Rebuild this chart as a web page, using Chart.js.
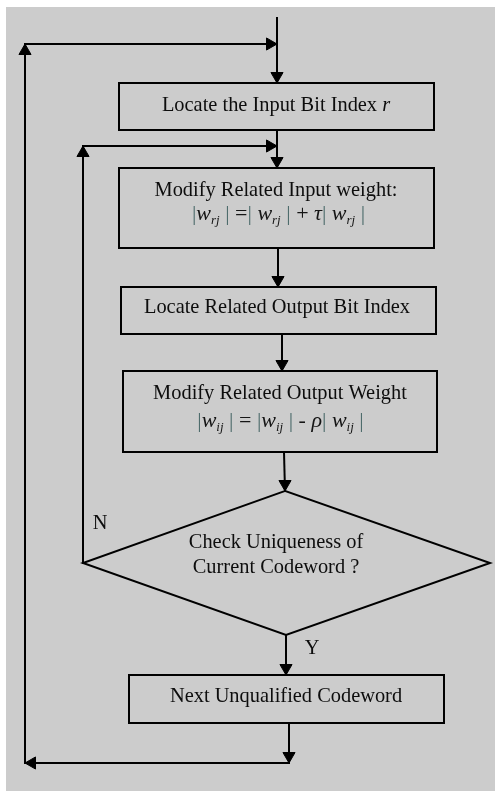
<!DOCTYPE html>
<html>
<head>
<meta charset="utf-8">
<script src="https://cdn.jsdelivr.net/npm/chart.js@4/dist/chart.umd.min.js"></script>
<style>
  html, body { margin: 0; padding: 0; background: #ffffff; }
  #wrap { width: 495px; height: 791px; position: relative; }
  canvas { display: block; }
</style>
</head>
<body>
<div id="wrap"><canvas id="c" width="495" height="791"></canvas></div>
<script>
// ---- content (text) ----
const boxLabels = [
  ["Locate the Input Bit Index ", {t:"r", i:true}],
  ["Modify Related Input weight:"],
  ["Locate Related Output Bit Index"],
  ["Modify Related Output Weight"],
  ["Next Unqualified Codeword"]
];
const decisionLines = ["Check Uniqueness of", "Current Codeword ?"];
const branchLabels = ["N", "Y"];
const BAR = '#4e6c6c';
const formula1 = [
  {t:"|", c:BAR}, {t:"w", i:true}, {t:"rj", i:true, sub:true}, {t:" | ", c:BAR}, {t:"="}, {t:"| ", c:BAR},
  {t:"w", i:true}, {t:"rj", i:true, sub:true}, {t:" | ", c:BAR}, {t:"+ "}, {t:"τ", i:true}, {t:"| ", c:BAR},
  {t:"w", i:true}, {t:"rj", i:true, sub:true}, {t:" |", c:BAR}
];
const formula2 = [
  {t:"|", c:BAR}, {t:"w", i:true}, {t:"ij", i:true, sub:true}, {t:" | ", c:BAR}, {t:"= "}, {t:"|", c:BAR},
  {t:"w", i:true}, {t:"ij", i:true, sub:true}, {t:" | ", c:BAR}, {t:"- "}, {t:"ρ", i:true}, {t:"| ", c:BAR},
  {t:"w", i:true}, {t:"ij", i:true, sub:true}, {t:" |", c:BAR}
];

// ---- layout (diagram units = pixels) ----
const boxRects = [
  [119, 83, 434, 130],
  [119, 168, 434, 248],
  [121, 287, 436, 334],
  [123, 371, 437, 452],
  [129, 675, 444, 723]
];
const diamondPts = [[285, 491], [490, 563], [286, 635], [83, 563]];
const connectors = [
  [[277, 18], [277, 83]],
  [[25, 763], [25, 44], [277, 44]],
  [[277, 130], [277, 168]],
  [[83, 563], [83, 146], [277, 146]],
  [[278, 248], [278, 287]],
  [[282, 334], [282, 371]],
  [[284, 452], [285, 491]],
  [[286, 635], [286, 675]],
  [[289, 723], [289, 763], [25, 763]]
];
// arrow tips: [x, y, rotationDeg]  (0 up, 90 right, 180 down, 270 left)
const arrowTips = [
  [277, 83, 180], [277, 44, 90], [25, 44, 0],
  [277, 168, 180], [277, 146, 90], [83, 146, 0],
  [278, 287, 180], [282, 371, 180], [285, 491, 180],
  [286, 675, 180], [289, 763, 180], [25, 763, 270]
];
const textPos = {
  box: [[[276, 106]], [[276, 191], [278.5, 214]], [[277, 308]], [[280, 394], [280.5, 421]], [[286, 697]]],
  decision: [[276, 543], [276, 568]],
  branch: [[100, 524], [312, 649]]
};

const FONT = '"Liberation Serif", "Times New Roman", serif';
const FS = 20.4;
const FS_FORMULA = 22;
const ARROW_R = 7;
const LINE = '#000';

const datasets = [];
boxRects.forEach(([x1, y1, x2, y2]) => {
  datasets.push({
    type: 'line',
    data: [{x:x1,y:y1},{x:x2,y:y1},{x:x2,y:y2},{x:x1,y:y2},{x:x1,y:y1}],
    borderColor: LINE, borderWidth: 2, pointRadius: 0, fill: false, tension: 0
  });
});
datasets.push({
  type: 'line',
  data: diamondPts.concat([diamondPts[0]]).map(p => ({x:p[0], y:p[1]})),
  borderColor: LINE, borderWidth: 2, pointRadius: 0, fill: false, tension: 0
});
connectors.forEach(pts => {
  datasets.push({
    type: 'line',
    data: pts.map(p => ({x:p[0], y:p[1]})),
    borderColor: LINE, borderWidth: 2, pointRadius: 0, fill: false, tension: 0
  });
});
// arrowheads: centre = tip moved back by the radius against the direction
const arrowData = arrowTips.map(([x, y, rot]) => {
  const a = rot * Math.PI / 180;
  return {x: x - Math.sin(a) * ARROW_R, y: y + Math.cos(a) * ARROW_R};
});
datasets.push({
  type: 'scatter',
  data: arrowData,
  pointStyle: 'triangle',
  pointRadius: ARROW_R,
  pointRotation: arrowTips.map(a => a[2]),
  backgroundColor: LINE,
  borderColor: LINE,
  pointBorderWidth: 1,
  showLine: false
});

function drawRich(ctx, segs, cx, cy, size, color) {
  const parts = segs.map(s => (typeof s === 'string') ? {t:s} : Object.assign({}, s));
  const fontOf = p => `${p.i ? 'italic ' : ''}${p.sub ? Math.round(size*0.58) : size}px ${FONT}`;
  let total = 0;
  parts.forEach(p => { ctx.font = fontOf(p); p.w = ctx.measureText(p.t).width; total += p.w; });
  let x = cx - total / 2;
  ctx.textBaseline = 'middle';
  ctx.textAlign = 'left';
  parts.forEach(p => {
    ctx.font = fontOf(p);
    ctx.fillStyle = p.c || color;
    ctx.fillText(p.t, x, cy + (p.sub ? size*0.3 : 0));
    x += p.w;
  });
}

const diagramPlugin = {
  id: 'diagram',
  beforeDraw(chart) {
    const {ctx, scales:{x, y}} = chart;
    ctx.save();
    ctx.fillStyle = '#cccccc';
    const x0 = x.getPixelForValue(6), y0 = y.getPixelForValue(7);
    const x1 = x.getPixelForValue(495), y1 = y.getPixelForValue(791);
    ctx.fillRect(x0, y0, x1 - x0, y1 - y0);
    ctx.restore();
  },
  afterDatasetsDraw(chart) {
    const {ctx, scales:{x, y}} = chart;
    ctx.save();
    const P = (p) => [x.getPixelForValue(p[0]), y.getPixelForValue(p[1])];
    boxLabels.forEach((lbl, k) => {
      const [px, py] = P(textPos.box[k][0]);
      drawRich(ctx, lbl, px, py, FS, '#0d0d0d');
    });
    let [fx, fy] = P(textPos.box[1][1]);
    drawRich(ctx, formula1, fx, fy, FS_FORMULA, '#151515');
    [fx, fy] = P(textPos.box[3][1]);
    drawRich(ctx, formula2, fx, fy, FS_FORMULA, '#151515');
    decisionLines.forEach((l, k) => {
      const [px, py] = P(textPos.decision[k]);
      drawRich(ctx, [l], px, py, FS, '#0d0d0d');
    });
    branchLabels.forEach((l, k) => {
      const [px, py] = P(textPos.branch[k]);
      drawRich(ctx, [l], px, py, FS, '#0d0d0d');
    });
    ctx.restore();
  }
};

new Chart(document.getElementById('c'), {
  type: 'line',
  data: { datasets },
  options: {
    responsive: false,
    animation: false,
    devicePixelRatio: 1,
    layout: { padding: 0, autoPadding: false },
    plugins: { legend: { display: false }, tooltip: { enabled: false } },
    scales: {
      x: { type: 'linear', min: 0, max: 495, display: false },
      y: { type: 'linear', min: 0, max: 791, reverse: true, display: false }
    },
    elements: { line: { borderCapStyle: 'square', borderJoinStyle: 'miter' } }
  },
  plugins: [diagramPlugin]
});
</script>
</body>
</html>
